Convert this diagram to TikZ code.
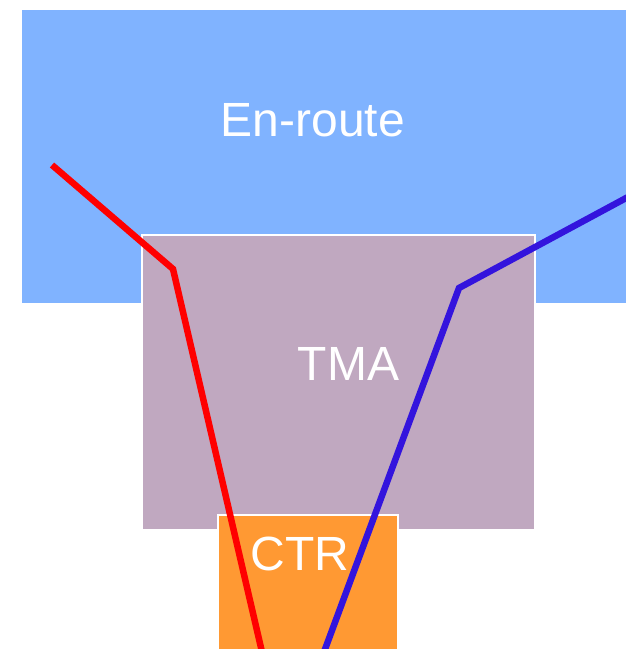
\documentclass[tikz,border=0pt]{standalone}
\usepackage{fontspec}
\setmainfont{Liberation Sans}
\definecolor{enroute}{RGB}{128,179,255}
\definecolor{tma}{RGB}{192,168,192}
\definecolor{ctr}{RGB}{255,153,51}
\definecolor{redl}{RGB}{255,0,0}
\definecolor{bluel}{RGB}{51,20,221}
\tikzset{
  zone/.style={draw=white, line width=1.5pt},
  lbl/.style={text=white, font=\fontsize{48}{50}\selectfont, anchor=base, inner sep=0pt},
  route/.style={line width=6.5pt, line join=miter}
}
\begin{document}
\begin{tikzpicture}[x=1pt,y=-1pt]
\useasboundingbox (0,0) rectangle (626,649);
\fill[enroute] (22,10) rectangle (626,303);
\filldraw[tma, zone] (142,235) rectangle (535,530);
\filldraw[ctr, zone] (218,515) rectangle (398,660);
\node[lbl] (en) at (313,136) {En-route};
\node[lbl] (tmal) at (348.5,380) {TMA};
\node[lbl] (ctrl) at (300,570) {CTR};
\coordinate (r0) at (52,165);
\coordinate (r1) at (173,269);
\coordinate (r2) at (262,652);
\coordinate (b0) at (628,197);
\coordinate (b1) at (459,288);
\coordinate (b2) at (324,652);
\draw[route, redl] (r0) -- (r1) -- (r2);
\draw[route, bluel] (b0) -- (b1) -- (b2);
\end{tikzpicture}
\end{document}
